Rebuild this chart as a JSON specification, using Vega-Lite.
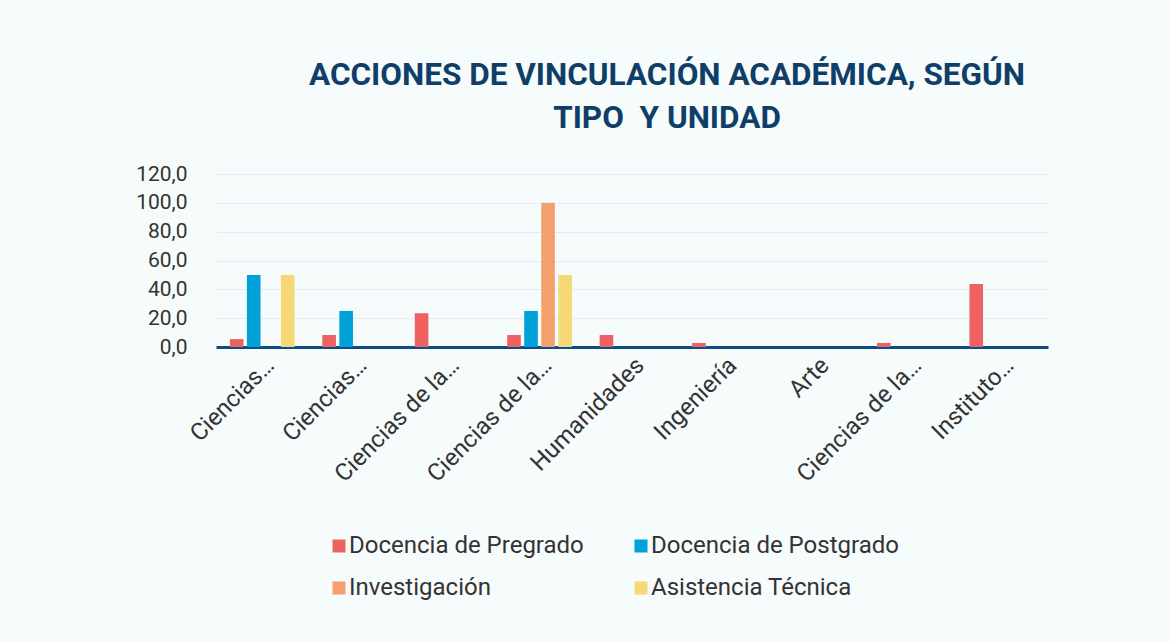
{
  "$schema": "https://vega.github.io/schema/vega-lite/v6.json",
  "width": 832,
  "height": 173,
  "autosize": "none",
  "padding": {"left": 216, "top": 174, "right": 122, "bottom": 295},
  "background": "#f6fbfb",
  "title": {
    "text": ["ACCIONES DE VINCULACIÓN ACADÉMICA, SEGÚN", "TIPO \u00a0Y UNIDAD"],
    "font": "Roboto",
    "fontSize": 31.5,
    "fontWeight": "bold",
    "color": "#0f3e68",
    "anchor": "middle",
    "dx": 35,
    "offset": 29,
    "lineHeight": 43
  },
  "data": {
    "values": [
      {"unidad": "Ciencias Económicas y Sociales", "tipo": "Docencia de Pregrado", "valor": 5.5},
      {"unidad": "Ciencias Económicas y Sociales", "tipo": "Docencia de Postgrado", "valor": 50},
      {"unidad": "Ciencias Económicas y Sociales", "tipo": "Investigación", "valor": 0},
      {"unidad": "Ciencias Económicas y Sociales", "tipo": "Asistencia Técnica", "valor": 50},
      {"unidad": "Ciencias Jurídicas y Políticas", "tipo": "Docencia de Pregrado", "valor": 8.3},
      {"unidad": "Ciencias Jurídicas y Políticas", "tipo": "Docencia de Postgrado", "valor": 25},
      {"unidad": "Ciencias Jurídicas y Políticas", "tipo": "Investigación", "valor": 0},
      {"unidad": "Ciencias Jurídicas y Políticas", "tipo": "Asistencia Técnica", "valor": 0},
      {"unidad": "Ciencias de la Salud", "tipo": "Docencia de Pregrado", "valor": 23.4},
      {"unidad": "Ciencias de la Salud", "tipo": "Docencia de Postgrado", "valor": 0},
      {"unidad": "Ciencias de la Salud", "tipo": "Investigación", "valor": 0},
      {"unidad": "Ciencias de la Salud", "tipo": "Asistencia Técnica", "valor": 0},
      {"unidad": "Ciencias de la Educación", "tipo": "Docencia de Pregrado", "valor": 8.3},
      {"unidad": "Ciencias de la Educación", "tipo": "Docencia de Postgrado", "valor": 25},
      {"unidad": "Ciencias de la Educación", "tipo": "Investigación", "valor": 100},
      {"unidad": "Ciencias de la Educación", "tipo": "Asistencia Técnica", "valor": 50},
      {"unidad": "Humanidades", "tipo": "Docencia de Pregrado", "valor": 8.3},
      {"unidad": "Humanidades", "tipo": "Docencia de Postgrado", "valor": 0},
      {"unidad": "Humanidades", "tipo": "Investigación", "valor": 0},
      {"unidad": "Humanidades", "tipo": "Asistencia Técnica", "valor": 0},
      {"unidad": "Ingeniería", "tipo": "Docencia de Pregrado", "valor": 2.8},
      {"unidad": "Ingeniería", "tipo": "Docencia de Postgrado", "valor": 0},
      {"unidad": "Ingeniería", "tipo": "Investigación", "valor": 0},
      {"unidad": "Ingeniería", "tipo": "Asistencia Técnica", "valor": 0},
      {"unidad": "Arte", "tipo": "Docencia de Pregrado", "valor": 0},
      {"unidad": "Arte", "tipo": "Docencia de Postgrado", "valor": 0},
      {"unidad": "Arte", "tipo": "Investigación", "valor": 0},
      {"unidad": "Arte", "tipo": "Asistencia Técnica", "valor": 0},
      {"unidad": "Ciencias de la Comunicación", "tipo": "Docencia de Pregrado", "valor": 2.8},
      {"unidad": "Ciencias de la Comunicación", "tipo": "Docencia de Postgrado", "valor": 0},
      {"unidad": "Ciencias de la Comunicación", "tipo": "Investigación", "valor": 0},
      {"unidad": "Ciencias de la Comunicación", "tipo": "Asistencia Técnica", "valor": 0},
      {"unidad": "Instituto de Investigaciones", "tipo": "Docencia de Pregrado", "valor": 43.7},
      {"unidad": "Instituto de Investigaciones", "tipo": "Docencia de Postgrado", "valor": 0},
      {"unidad": "Instituto de Investigaciones", "tipo": "Investigación", "valor": 0},
      {"unidad": "Instituto de Investigaciones", "tipo": "Asistencia Técnica", "valor": 0}
    ]
  },
  "mark": {"type": "bar", "stroke": null},
  "encoding": {
    "x": {
      "field": "unidad",
      "type": "nominal",
      "sort": null,
      "scale": {"paddingInner": 0.3, "paddingOuter": 0.15},
      "axis": {
        "title": null,
        "labelAngle": -45,
        "labelAlign": "right",
        "labelBaseline": "top",
        "labelFont": "Roboto",
        "labelFontSize": 24,
        "labelColor": "#333333",
        "labelPadding": 6,
        "labelLimit": 300,
        "ticks": false,
        "domainColor": "#0f4c81",
        "domainWidth": 3,
        "labelExpr": "indexof(datum.label,'Ciencias de la') == 0 ? 'Ciencias de la…' : indexof(datum.label,'Ciencias') == 0 ? 'Ciencias…' : indexof(datum.label,'Instituto') == 0 ? 'Instituto…' : datum.label"
      }
    },
    "xOffset": {
      "field": "tipo",
      "type": "nominal",
      "sort": ["Docencia de Pregrado", "Docencia de Postgrado", "Investigación", "Asistencia Técnica"],
      "scale": {"paddingInner": 0.2}
    },
    "y": {
      "field": "valor",
      "type": "quantitative",
      "scale": {"domain": [0, 120]},
      "axis": {
        "title": null,
        "values": [0, 20, 40, 60, 80, 100, 120],
        "labelExpr": "replace(format(datum.value, '.1f'), '.', ',')",
        "labelFont": "Roboto",
        "labelFontSize": 21,
        "labelColor": "#333333",
        "labelPadding": 29,
        "domain": false,
        "ticks": false,
        "gridColor": "#e4ebf1",
        "gridWidth": 1
      }
    },
    "color": {
      "field": "tipo",
      "type": "nominal",
      "scale": {
        "domain": ["Docencia de Pregrado", "Docencia de Postgrado", "Investigación", "Asistencia Técnica"],
        "range": ["#ee6262", "#00a0d8", "#f4a06c", "#f6d877"]
      },
      "legend": {
        "title": null,
        "orient": "none",
        "legendX": 111,
        "legendY": 360,
        "columns": 2,
        "direction": "horizontal",
        "symbolType": "square",
        "symbolSize": 169,
        "symbolStrokeWidth": 0,
        "labelFont": "Roboto",
        "labelFontSize": 24,
        "labelColor": "#333333",
        "labelOffset": -2,
        "rowPadding": 18,
        "columnPadding": 45,
        "labelLimit": 400
      }
    }
  },
  "config": {
    "view": {"stroke": null}
  }
}
